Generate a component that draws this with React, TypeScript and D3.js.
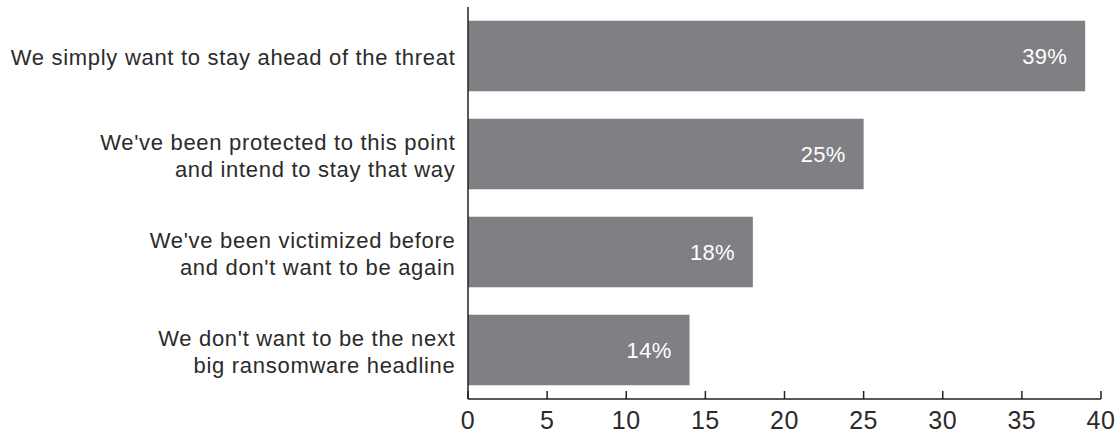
import React from "react";
import * as d3 from "d3";

const categories: string[][] = [
  ["We simply want to stay ahead of the threat"],
  ["We've been protected to this point", "and intend to stay that way"],
  ["We've been victimized before", "and don't want to be again"],
  ["We don't want to be the next", "big ransomware headline"],
];
const values: number[] = [39, 25, 18, 14];
const xTicks: number[] = [0, 5, 10, 15, 20, 25, 30, 35, 40];

const W = 1120;
const H = 434;
const FONT = "'Liberation Sans', Arial, sans-serif";

export default function App() {
  const x = d3.scaleLinear().domain([0, 40]).range([468, 1101]);
  const y = d3
    .scaleBand<number>()
    .domain(d3.range(values.length))
    .range([7, 399])
    .paddingInner(0.28)
    .paddingOuter(0.14);
  const axisY = 399;
  return (
    <svg
      width={W}
      height={H}
      style={{ position: "absolute", left: 0, top: 0, background: "#fff" }}
    >
      {values.map((v, i) => {
        const by = y(i)!;
        const bh = y.bandwidth();
        const cy = by + bh / 2;
        const lines = categories[i];
        const lh = 27;
        const startY = cy - ((lines.length - 1) * lh) / 2;
        return (
          <g key={i}>
            <rect x={x(0)} y={by} width={x(v) - x(0)} height={bh} fill="#808084" />
            <text
              x={x(v) - 18}
              y={cy}
              dy="0.36em"
              textAnchor="end"
              fill="#fff"
              fontFamily={FONT}
              fontSize={22}
              letterSpacing={0.3}
            >
              {v}%
            </text>
            <text
              textAnchor="end"
              fill="#2b2b2b"
              fontFamily={FONT}
              fontSize={22}
              letterSpacing={0.7}
            >
              {lines.map((l, j) => (
                <tspan key={j} x={455.5} y={startY + j * lh} dy="0.42em">
                  {l}
                </tspan>
              ))}
            </text>
          </g>
        );
      })}
      <line x1={x(0)} x2={x(0)} y1={7} y2={axisY} stroke="#222" strokeWidth={1.5} />
      <line x1={x(0)} x2={x(40)} y1={axisY} y2={axisY} stroke="#222" strokeWidth={1.5} />
      {xTicks.map((t) => (
        <g key={t}>
          <line x1={x(t)} x2={x(t)} y1={axisY} y2={axisY - 8} stroke="#222" strokeWidth={1.5} />
          <text
            x={x(t)}
            y={428.5}
            textAnchor="middle"
            fill="#2b2b2b"
            fontFamily={FONT}
            fontSize={25}
            letterSpacing={0.5}
          >
            {t}
          </text>
        </g>
      ))}
    </svg>
  );
}
